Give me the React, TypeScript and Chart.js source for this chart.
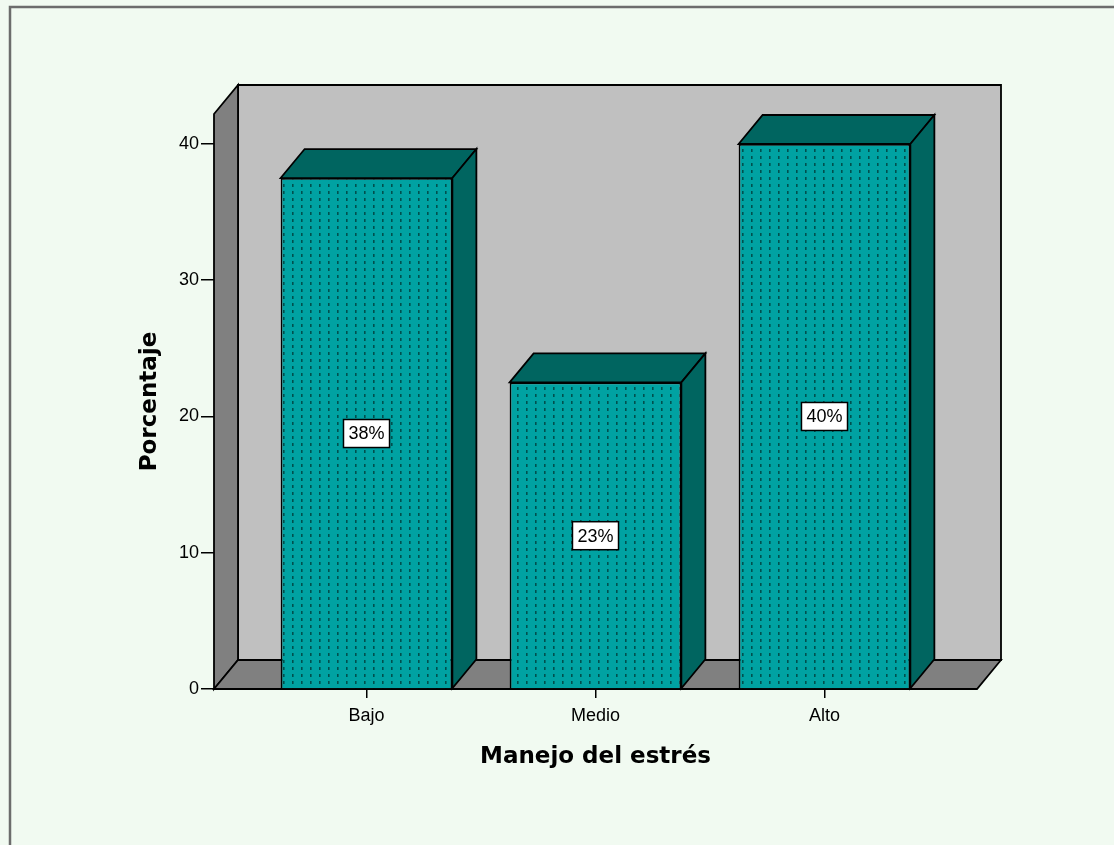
import React, { useEffect, useRef } from "react";
import { Chart, registerables } from "chart.js";

Chart.register(...registerables);

// Stress-management levels and the share of respondents in each
const categories = ["Bajo", "Medio", "Alto"];
const percentages = [37.5, 22.5, 40];
const yTicks = [0, 10, 20, 30, 40];
const yMax = 42.2;
const xMin = -0.666;
const xMax = 2.666;

const xTitle = "Manejo del estrés";
const yTitle = "Porcentaje";

// look of the box
const DEPTH_X = 24;
const DEPTH_Y = 29;
const PAGE_BG = "#F1FAF1";
const WALL_BACK = "#C0C0C0";
const WALL_SIDE = "#808080";
const BAR_FACE = "#00A2A2";
const BAR_DOTS = "#00504E";
const BAR_SHADE = "#006560";
const LINE = "#000000";

const TICK_FONT = { family: "'Liberation Sans', Arial, sans-serif", size: 18 };
const TITLE_FONT = { family: "'DejaVu Sans', Verdana, sans-serif", size: 23, weight: "bold" as const };

function makeDotPattern(ctx: CanvasRenderingContext2D): CanvasPattern | string {
  const tile = document.createElement("canvas");
  tile.width = 9;
  tile.height = 7;
  const t = tile.getContext("2d");
  if (!t) return BAR_FACE;
  t.fillStyle = BAR_FACE;
  t.fillRect(0, 0, 9, 7);
  t.fillStyle = BAR_DOTS;
  t.fillRect(4, 2, 1, 3);
  t.globalAlpha = 0.6;
  t.fillRect(5, 2, 1, 3);
  return ctx.createPattern(tile, "repeat") || BAR_FACE;
}

function polygon(ctx: CanvasRenderingContext2D, pts: number[][], fill: string, lw = 1.8) {
  ctx.beginPath();
  ctx.moveTo(pts[0][0], pts[0][1]);
  for (let i = 1; i < pts.length; i++) ctx.lineTo(pts[i][0], pts[i][1]);
  ctx.closePath();
  ctx.fillStyle = fill;
  ctx.fill();
  ctx.lineWidth = lw;
  ctx.strokeStyle = LINE;
  ctx.stroke();
}

const boxPlugin = {
  id: "box3d",
  beforeDraw(chart: any) {
    const { ctx, width, height } = chart;
    ctx.save();
    ctx.fillStyle = PAGE_BG;
    ctx.fillRect(0, 0, width, height);
    ctx.strokeStyle = "#6C6C6C";
    ctx.lineWidth = 2.5;
    ctx.beginPath();
    ctx.moveTo(10, height);
    ctx.lineTo(10, 7);
    ctx.lineTo(width, 7);
    ctx.stroke();
    ctx.restore();
  },
  beforeDatasetsDraw(chart: any) {
    const { ctx, chartArea: a } = chart;
    const dx = DEPTH_X;
    const dy = DEPTH_Y;
    ctx.save();
    ctx.lineJoin = "miter";
    // back wall
    polygon(ctx, [
      [a.left + dx, a.top - dy],
      [a.right + dx, a.top - dy],
      [a.right + dx, a.bottom - dy],
      [a.left + dx, a.bottom - dy],
    ], WALL_BACK);
    // left wall
    polygon(ctx, [
      [a.left, a.top],
      [a.left + dx, a.top - dy],
      [a.left + dx, a.bottom - dy],
      [a.left, a.bottom],
    ], WALL_SIDE);
    // floor
    polygon(ctx, [
      [a.left, a.bottom],
      [a.left + dx, a.bottom - dy],
      [a.right + dx, a.bottom - dy],
      [a.right, a.bottom],
    ], WALL_SIDE);
    ctx.restore();
  },
  afterDatasetsDraw(chart: any) {
    const { ctx } = chart;
    const yScale = chart.scales.y;
    const meta = chart.getDatasetMeta(0);
    const dx = DEPTH_X;
    const dy = DEPTH_Y;
    ctx.save();
    meta.data.forEach((bar: any) => {
      const { x, y, base, width } = bar.getProps(["x", "y", "base", "width"], true);
      const l = x - width / 2;
      const r = x + width / 2;
      // top face
      polygon(ctx, [[l, y], [l + dx, y - dy], [r + dx, y - dy], [r, y]], BAR_SHADE);
      // right face
      polygon(ctx, [[r, y], [r + dx, y - dy], [r + dx, base - dy], [r, base]], BAR_SHADE);
    });
    // value boxes
    ctx.font = `${TICK_FONT.size}px ${TICK_FONT.family}`;
    ctx.textAlign = "center";
    ctx.textBaseline = "middle";
    meta.data.forEach((bar: any, i: number) => {
      const v = percentages[i];
      const text = `${Math.round(v)}%`;
      const cx = bar.x;
      const cy = yScale.getPixelForValue(v / 2);
      const w = ctx.measureText(text).width + 10;
      const h = 28;
      ctx.fillStyle = "#FFFFFF";
      ctx.fillRect(cx - w / 2, cy - h / 2, w, h);
      ctx.lineWidth = 1.5;
      ctx.strokeStyle = LINE;
      ctx.strokeRect(cx - w / 2, cy - h / 2, w, h);
      ctx.fillStyle = "#000000";
      ctx.fillText(text, cx, cy + 1);
    });
    ctx.restore();
  },
};

export default function App() {
  const canvasRef = useRef<HTMLCanvasElement | null>(null);

  useEffect(() => {
    const canvas = canvasRef.current;
    if (!canvas) return;
    const ctx = canvas.getContext("2d");
    if (!ctx) return;
    const fill = makeDotPattern(ctx);

    const chart = new Chart(canvas, {
      type: "bar",
      data: {
        datasets: [
          {
            data: percentages.map((v, i) => ({ x: i, y: v })),
            backgroundColor: fill as any,
            borderColor: LINE,
            borderWidth: 1.8,
            barPercentage: 0.75,
            categoryPercentage: 1,
          },
        ],
      },
      options: {
        responsive: false,
        animation: false,
        events: [],
        layout: { padding: { left: 0, right: 137, top: 114, bottom: 56 } },
        plugins: {
          legend: { display: false },
          tooltip: { enabled: false },
        },
        scales: {
          x: {
            type: "linear",
            min: xMin,
            max: xMax,
            offset: false,
            afterBuildTicks: (scale: any) => {
              scale.ticks = categories.map((_, i) => ({ value: i }));
            },
            afterFit: (scale: any) => {
              scale.height = 100;
            },
            ticks: {
              autoSkip: false,
              maxRotation: 0,
              padding: 7,
              color: "#000",
              font: TICK_FONT,
              callback: (v: any) => categories[Number(v)] ?? "",
            },
            grid: {
              display: true,
              offset: false,
              drawOnChartArea: false,
              drawTicks: true,
              tickLength: 9,
              color: LINE,
              lineWidth: 1.5,
            },
            border: { display: false },
            title: {
              display: true,
              text: xTitle,
              color: "#000",
              font: TITLE_FONT,
              padding: { top: 0, bottom: 18 },
            },
          },
          y: {
            type: "linear",
            min: 0,
            max: yMax,
            afterBuildTicks: (scale: any) => {
              scale.ticks = yTicks.map((v) => ({ value: v }));
            },
            afterFit: (scale: any) => {
              scale.width = 214;
            },
            ticks: {
              padding: 2,
              color: "#000",
              font: TICK_FONT,
            },
            grid: {
              display: true,
              drawOnChartArea: false,
              drawTicks: true,
              tickLength: 13,
              color: LINE,
              lineWidth: 1.5,
            },
            border: { display: false },
            title: {
              display: true,
              text: yTitle,
              color: "#000",
              font: TITLE_FONT,
              padding: { top: 136, bottom: 0 },
            },
          },
        },
      } as any,
      plugins: [boxPlugin],
    });

    return () => chart.destroy();
  }, []);

  return (
    <div style={{ position: "absolute", left: 0, top: 0, width: 1114, height: 845 }}>
      <canvas ref={canvasRef} width={1114} height={845} style={{ display: "block" }} />
    </div>
  );
}
